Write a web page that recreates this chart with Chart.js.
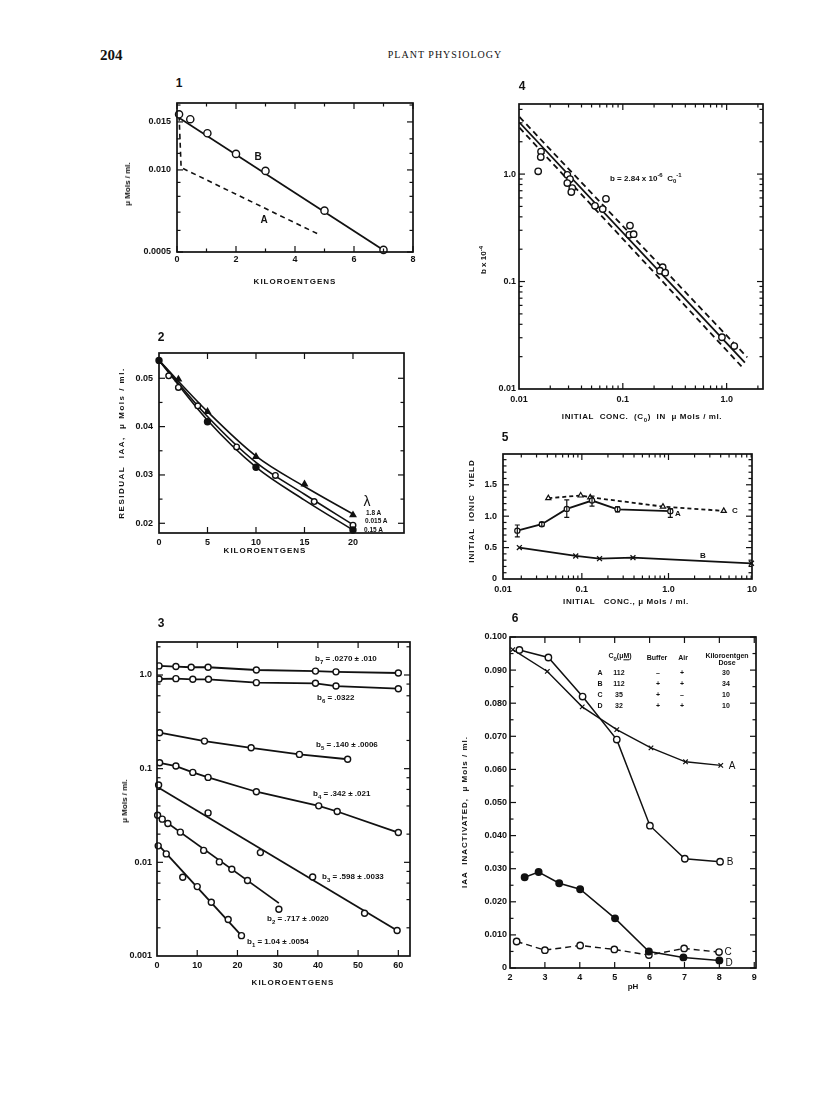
<!DOCTYPE html>
<html><head><meta charset="utf-8">
<script src="https://cdn.jsdelivr.net/npm/chart.js@4.4.1/dist/chart.umd.min.js"></script>
<style>
body{margin:0;background:#fff;width:816px;height:1107px;position:relative;overflow:hidden;font-family:'Liberation Sans',Arial,sans-serif;color:#111;}
.t{position:absolute;transform:translate(-50%,-50%);white-space:nowrap;line-height:1;font-weight:bold;font-size:8px;}
.t sub,.t sup{font-size:6px;}
</style></head><body>
<script>
// ================= DATA =================
// Fig 1
const f1_B_x=[0.07,0.45,1.03,2.0,3.0,5.0,7.0];
const f1_B_y=[0.0160,0.01535,0.01363,0.01145,0.00992,0.00709,0.00509];
const f1_Bfit_x=[0,7.16], f1_Bfit_y=[0.0157,0.00495];
const f1_A_x=[0.07,0.14,4.81], f1_A_y=[0.0158,0.0102,0.0058];
const f1_xTicks=[0,2,4,6,8], f1_xLabels=['0','2','4','6','8'];
const f1_yTicks=[0.005,0.010,0.015], f1_yLabels=['0.0005','0.010','0.015'];

// Fig 2
const f2_curve_x=[0,5,10,15,20];
const f2_c18_y=[0.0537,0.0431,0.0339,0.0276,0.0219];
const f2_c0015_y=[0.0537,0.0421,0.0326,0.0260,0.0197];
const f2_c015_y=[0.0537,0.0413,0.0316,0.0248,0.0186];
const f2_tri_x=[2,5,10,15,20], f2_tri_y=[0.0498,0.0431,0.0338,0.0281,0.0217];
const f2_open_x=[1,2,4,8,12,16,20], f2_open_y=[0.0505,0.0481,0.0443,0.0358,0.0299,0.0245,0.0196];
const f2_fill_x=[0,5,10,20], f2_fill_y=[0.0537,0.0410,0.0316,0.0186];
const f2_xTicks=[0,5,10,15,20], f2_xLabels=['0','5','10','15','20'];
const f2_yTicks=[0.02,0.03,0.04,0.05], f2_yLabels=['0.02','0.03','0.04','0.05'];

// Fig 3
const f3_b7_x=[0.5,4.7,8.5,12.7,24.7,39.4,44.5,60], f3_b7_y=[1.25,1.23,1.21,1.21,1.13,1.10,1.08,1.05];
const f3_b6_x=[0.5,4.7,8.9,12.8,24.7,39.4,44.5,60], f3_b6_y=[0.906,0.914,0.90,0.90,0.828,0.815,0.762,0.714];
const f3_b5_x=[0.65,11.8,23.4,35.4,47.4], f3_b5_y=[0.242,0.197,0.167,0.142,0.126];
const f3_b4_x=[0.65,4.7,8.9,12.7,24.7,40.2,44.8,60], f3_b4_y=[0.1156,0.1066,0.0912,0.0807,0.0567,0.0401,0.0349,0.0208];
const f3_b3_x=[0.4,12.7,25.7,38.7,51.6,59.7], f3_b3_y=[0.0668,0.0337,0.0127,0.00698,0.00286,0.00187];
const f3_b3fit_x=[0,59.7], f3_b3fit_y=[0.064,0.00187];
const f3_b2_x=[0.15,1.3,2.7,5.8,11.6,15.5,18.6,22.5,30.3], f3_b2_y=[0.0318,0.0289,0.0260,0.0210,0.0134,0.0101,0.00844,0.0064,0.00316];
const f3_b2fit_x=[0,30.3], f3_b2fit_y=[0.0317,0.00367];
const f3_b1_x=[0.3,2.3,6.4,10,13.5,17.7,21], f3_b1_y=[0.0150,0.0123,0.00693,0.00551,0.00375,0.00245,0.00165];
const f3_b1fit_x=[0,21], f3_b1fit_y=[0.0159,0.00165];
const f3_xTicks=[0,10,20,30,40,50,60], f3_xLabels=['0','10','20','30','40','50','60'];
const f3_yTicks=[0.001,0.01,0.1,1], f3_yLabels=['0.001','0.01','0.1','1.0'];

// Fig 4
const f4_x=[0.0153,0.0163,0.0162,0.0292,0.0310,0.0292,0.0326,0.0319,0.0688,0.0539,0.0640,0.1172,0.1154,0.1271,0.242,0.228,0.256,0.901,1.184];
const f4_y=[1.06,1.62,1.44,0.985,0.898,0.824,0.741,0.680,0.589,0.507,0.472,0.332,0.272,0.276,0.136,0.126,0.121,0.0303,0.0251];
const f4_fit_x=[0.0101,1.50], f4_fit_y=[3.02,0.0176];
const f4_up_x=[0.0101,1.58], f4_up_y=[3.40,0.0197];
const f4_lo_x=[0.0101,1.445], f4_lo_y=[2.70,0.0156];
const f4_xTicks=[0.01,0.1,1], f4_xLabels=['0.01','0.1','1.0'];
const f4_yTicks=[0.01,0.1,1], f4_yLabels=['0.01','0.1','1.0'];

// Fig 5
const f5_A_x=[0.018,0.0345,0.067,0.131,0.258,1.05], f5_A_y=[0.77,0.872,1.116,1.249,1.11,1.08];
const f5_A_lo=[0.67,0.84,0.98,1.16,1.07,0.98], f5_A_hi=[0.86,0.90,1.26,1.32,1.15,1.12];
const f5_C_x=[0.041,0.097,0.125,0.863,4.34], f5_C_y=[1.287,1.329,1.30,1.153,1.085];
const f5_B_x=[0.019,0.085,0.160,0.389,9.06], f5_B_y=[0.50,0.367,0.324,0.340,0.250];
const f5_xMin=0.0123, f5_xMax=9.2;
const f5_xTicks=[f5_xMin,0.1,1,f5_xMax], f5_xLabels=['0.01','0.1','1.0','10'];
const f5_yTicks=[0,0.5,1.0,1.5], f5_yLabels=['0','0.5','1.0','1.5'];

// Fig 6
const f6_A_x=[2.08,3.07,4.07,5.06,6.04,7.03,8.04], f6_A_y=[0.0962,0.0896,0.0789,0.0720,0.0665,0.0623,0.0612];
const f6_B_x=[2.27,3.10,4.08,5.06,6.01,7.01,8.02], f6_B_y=[0.0961,0.0938,0.0820,0.0690,0.0430,0.0330,0.0321];
const f6_C_x=[2.19,3.0,4.01,4.99,5.98,6.99,7.99], f6_C_y=[0.0080,0.0054,0.0068,0.0056,0.0039,0.0059,0.0048];
const f6_D_x=[2.42,2.82,3.41,4.01,5.01,5.98,6.97,8.0], f6_D_y=[0.0274,0.0290,0.0256,0.0238,0.0150,0.0050,0.0032,0.0023];
const f6_xTicks=[2,3,4,5,6,7,8,9], f6_xLabels=['2','3','4','5','6','7','8','9'];
const f6_yTicks=[0,0.01,0.02,0.03,0.04,0.05,0.06,0.07,0.08,0.09,0.1];
const f6_yLabels=['0','0.010','0.020','0.030','0.040','0.050','0.060','0.070','0.080','0.090','0.100'];
const f6_table=[['A','112','\u2013','+','30'],['B','112','+','+','34'],['C','35','+','\u2013','10'],['D','32','+','+','10']];

// ================= HELPERS =================
const INK='#111';
const pts=(xs,ys)=>xs.map((x,i)=>({x:x,y:ys[i]}));
function mk(xs,ys,o){return Object.assign({data:pts(xs,ys),showLine:false,pointStyle:'circle',pointRadius:3,pointBackgroundColor:'#fff',pointBorderColor:INK,pointBorderWidth:1.4,clip:false},o||{});}
function ln(xs,ys,o){return Object.assign({data:pts(xs,ys),showLine:true,pointRadius:0,borderColor:INK,borderWidth:1.8,fill:false},o||{});}
function logMinor(from,to){const r=[];for(let d=1e-4;d<100;d*=10){for(let k=2;k<=9;k++){const v=+(k*d).toPrecision(3);if(v>from&&v<to)r.push(v);}}return r;}
function steps(a,b,s){const r=[];for(let v=a;v<=b+1e-9;v+=s)r.push(+v.toFixed(6));return r;}

function framePlugin(f){
  return {id:'frame',afterDraw(chart){
    const {ctx,chartArea:a,scales:{x,y}}=chart;
    ctx.save();ctx.strokeStyle=INK;
    const seg=(x1,y1,x2,y2)=>{ctx.beginPath();ctx.moveTo(x1,y1);ctx.lineTo(x2,y2);ctx.stroke();};
    ctx.lineWidth=1.2;
    const doX=(arr,len)=>(arr||[]).forEach(v=>{const p=x.getPixelForValue(v);seg(p,a.bottom,p,a.bottom-len);seg(p,a.top,p,a.top+len);});
    const doY=(arr,len)=>(arr||[]).forEach(v=>{const p=y.getPixelForValue(v);seg(a.left,p,a.left+len,p);seg(a.right,p,a.right-len,p);});
    doX(f.xMaj,6);doX(f.xMin,3.5);doY(f.yMaj,6);doY(f.yMin,3.5);
    ctx.lineWidth=1.7;
    ctx.strokeRect(a.left,a.top,a.right-a.left,a.bottom-a.top);
    ctx.restore();
  }};
}
function errPlugin(xs,lo,hi){
  return {id:'err',afterDatasetsDraw(chart){
    const {ctx,scales:{x,y}}=chart;ctx.save();ctx.strokeStyle=INK;ctx.lineWidth=1.2;
    xs.forEach((v,i)=>{const px=x.getPixelForValue(v),p1=y.getPixelForValue(lo[i]),p2=y.getPixelForValue(hi[i]);
      ctx.beginPath();ctx.moveTo(px,p1);ctx.lineTo(px,p2);ctx.moveTo(px-2.5,p1);ctx.lineTo(px+2.5,p1);ctx.moveTo(px-2.5,p2);ctx.lineTo(px+2.5,p2);ctx.stroke();});
    ctx.restore();
  }};
}

function makeChart(g,o){
  const mL=60,mT=12,mR=24,mB=24;
  const cv=document.createElement('canvas');
  const w=g.R-g.L+mL+mR,h=g.B-g.T+mT+mB;
  cv.width=w;cv.height=h;
  cv.style.cssText='position:absolute;left:'+(g.L-mL)+'px;top:'+(g.T-mT)+'px;width:'+w+'px;height:'+h+'px';
  document.body.appendChild(cv);
  const tickFont={family:'Liberation Sans',weight:'bold',size:9};
  const axis=(t,min,max,vals,labels,pad,isX)=>({
    type:t,min:min,max:max,position:isX?'bottom':'left',
    afterBuildTicks:s=>{s.ticks=vals.map(v=>({value:v}));},
    afterFit:s=>{if(isX)s.height=mB;else s.width=mL;},
    ticks:{autoSkip:false,maxRotation:0,minRotation:0,padding:pad,color:INK,font:tickFont,callback:(v,i)=>labels[i]},
    grid:{display:false,drawTicks:false},border:{display:false}
  });
  return new Chart(cv,{
    type:'scatter',
    data:{datasets:o.datasets},
    options:{responsive:false,animation:false,events:[],
      layout:{padding:{top:mT,right:mR,left:0,bottom:0}},
      plugins:{legend:{display:false},tooltip:{enabled:false}},
      scales:{x:axis(o.xType,o.xMin,o.xMax,o.xVals,o.xLabels,o.xPad,true),
              y:axis(o.yType,o.yMin,o.yMax,o.yVals,o.yLabels,o.yPad,false)}},
    plugins:[framePlugin(o.frame)].concat(o.extra||[])
  });
}
function T(x,y,html,style){
  const d=document.createElement('div');d.className='t';d.innerHTML=html;
  d.style.left=x+'px';d.style.top=y+'px';
  if(style)d.style.cssText+=';'+style;
  document.body.appendChild(d);return d;
}
const ROT='transform:translate(-50%,-50%) rotate(-90deg);';
const LEFT='transform:translate(0,-50%);';
const TITLE='font-size:8px;letter-spacing:1px;';

// ================= HEADER =================
T(100,55,'204','transform:translate(0,-50%);font-family:"Liberation Serif",serif;font-size:15px;font-weight:bold;');
T(445,55,'PLANT PHYSIOLOGY','font-family:"Liberation Serif",serif;font-size:10px;font-weight:normal;letter-spacing:1px;');

// ================= FIG 1 =================
makeChart({L:177,T:103,R:413,B:252},{
  xType:'linear',xMin:0,xMax:8,xVals:f1_xTicks,xLabels:f1_xLabels,xPad:2,
  yType:'logarithmic',yMin:0.005,yMax:0.0176,yVals:f1_yTicks,yLabels:f1_yLabels,yPad:6,
  frame:{xMaj:f1_xTicks,xMin:[1,3,5,7],yMaj:f1_yTicks,yMin:[0.006,0.007,0.008,0.009,0.0115,0.013,0.0173]},
  datasets:[
    mk(f1_B_x,f1_B_y,{pointRadius:3.6}),
    ln(f1_Bfit_x,f1_Bfit_y),
    ln(f1_A_x,f1_A_y,{borderDash:[5,4],borderWidth:1.6})
  ]});
T(179,83,'1','font-size:12px;');
T(258,157,'B','font-size:10px;');
T(264,220,'A','font-size:10px;');
T(295,282,'KILOROENTGENS',TITLE);
T(128,184,'\u03bc Mols / ml.',ROT+'font-size:8px;');

// ================= FIG 2 =================
makeChart({L:159,T:353,R:404,B:533},{
  xType:'linear',xMin:0,xMax:25.26,xVals:f2_xTicks,xLabels:f2_xLabels,xPad:4,
  yType:'linear',yMin:0.01799,yMax:0.05523,yVals:f2_yTicks,yLabels:f2_yLabels,yPad:6,
  frame:{xMaj:[5,10,15,20],yMaj:f2_yTicks,yMin:[0.025,0.035,0.045]},
  datasets:[
    mk(f2_fill_x,f2_fill_y,{pointRadius:3,pointBackgroundColor:INK}),
    mk(f2_open_x,f2_open_y,{pointRadius:2.8}),
    mk(f2_tri_x,f2_tri_y,{pointStyle:'triangle',pointRadius:3.2,pointBackgroundColor:INK}),
    ln(f2_curve_x,f2_c18_y,{cubicInterpolationMode:'monotone',borderWidth:1.6}),
    ln(f2_curve_x,f2_c0015_y,{cubicInterpolationMode:'monotone',borderWidth:1.6}),
    ln(f2_curve_x,f2_c015_y,{cubicInterpolationMode:'monotone',borderWidth:1.6})
  ]});
T(161,337,'2','font-size:12px;');
T(367,501,'\u03bb','font-size:14px;font-weight:normal;');
T(366,513,'1.8 A',LEFT+'font-size:6.5px;');
T(365,521,'0.015 A',LEFT+'font-size:6.5px;');
T(364,529.5,'0.15 A',LEFT+'font-size:6.5px;');
T(265,551,'KILOROENTGENS',TITLE);
T(122,443,'RESIDUAL&nbsp; IAA, &nbsp;\u03bc Mols / ml.',ROT+'font-size:8px;letter-spacing:1.5px;');

// ================= FIG 3 =================
makeChart({L:157,T:642,R:410,B:956},{
  xType:'linear',xMin:0,xMax:62.9,xVals:f3_xTicks,xLabels:f3_xLabels,xPad:4,
  yType:'logarithmic',yMin:0.001,yMax:2.25,yVals:f3_yTicks,yLabels:f3_yLabels,yPad:5,
  frame:{xMaj:[10,20,30,40,50,60],yMaj:[0.01,0.1,1],yMin:[0.002,0.004,0.006,0.008,0.02,0.04,0.06,0.08,0.2,0.4,0.6,0.8,2]},
  datasets:[
    mk(f3_b3_x,f3_b3_y),mk(f3_b2_x,f3_b2_y),mk(f3_b1_x,f3_b1_y),
    ln(f3_b7_x,f3_b7_y,{pointRadius:3,pointBackgroundColor:'#fff',pointBorderColor:INK,pointBorderWidth:1.4}),
    ln(f3_b6_x,f3_b6_y,{pointRadius:3,pointBackgroundColor:'#fff',pointBorderColor:INK,pointBorderWidth:1.4}),
    ln(f3_b5_x,f3_b5_y,{pointRadius:3,pointBackgroundColor:'#fff',pointBorderColor:INK,pointBorderWidth:1.4}),
    ln(f3_b4_x,f3_b4_y,{pointRadius:3,pointBackgroundColor:'#fff',pointBorderColor:INK,pointBorderWidth:1.4}),
    ln(f3_b3fit_x,f3_b3fit_y),ln(f3_b2fit_x,f3_b2fit_y),ln(f3_b1fit_x,f3_b1fit_y)
  ]});
T(161,623,'3','font-size:12px;');
T(315,660,'b<sub>7</sub> = .0270 &plusmn; .010',LEFT);
T(317,699,'b<sub>6</sub> = .0322',LEFT);
T(316,746,'b<sub>5</sub> = .140 &plusmn; .0006',LEFT);
T(313,795,'b<sub>4</sub> = .342 &plusmn; .021',LEFT);
T(322,878,'b<sub>3</sub> = .598 &plusmn; .0033',LEFT);
T(267,920,'b<sub>2</sub> = .717 &plusmn; .0020',LEFT);
T(247,943,'b<sub>1</sub> = 1.04 &plusmn; .0054',LEFT);
T(293,983,'KILOROENTGENS',TITLE);
T(125,801,'\u03bc Mols / ml.',ROT+'font-size:8px;');

// ================= FIG 4 =================
makeChart({L:519,T:104,R:763,B:389},{
  xType:'logarithmic',xMin:0.01,xMax:2.24,xVals:f4_xTicks,xLabels:f4_xLabels,xPad:5,
  yType:'logarithmic',yMin:0.01,yMax:4.49,yVals:f4_yTicks,yLabels:f4_yLabels,yPad:3,
  frame:{xMaj:[0.1,1],xMin:logMinor(0.01,2.24),yMaj:[0.1,1],yMin:logMinor(0.01,4.49)},
  datasets:[
    mk(f4_x,f4_y,{pointRadius:3.2}),
    ln(f4_fit_x,f4_fit_y),
    ln(f4_up_x,f4_up_y,{borderDash:[6,4]}),
    ln(f4_lo_x,f4_lo_y,{borderDash:[6,4]})
  ]});
T(522,86,'4','font-size:12px;');
T(610,178,'b = 2.84 x 10<sup>-6</sup>&nbsp; C<sub>0</sub><sup>-1</sup>',LEFT);
T(483,260,'b x 10<sup>-4</sup>',ROT+'font-size:8px;');
T(642,418,'INITIAL&nbsp; CONC.&nbsp; (C<sub>0</sub>)&nbsp; IN&nbsp; \u03bc Mols / ml.','font-size:8px;letter-spacing:0.6px;');

// ================= FIG 5 =================
makeChart({L:503,T:454,R:752,B:579},{
  xType:'logarithmic',xMin:f5_xMin,xMax:f5_xMax,xVals:f5_xTicks,xLabels:f5_xLabels,xPad:5,
  yType:'linear',yMin:0,yMax:1.99,yVals:f5_yTicks,yLabels:f5_yLabels,yPad:6,
  frame:{xMaj:[0.1,1],xMin:logMinor(f5_xMin,f5_xMax),yMaj:[0.5,1,1.5],yMin:[0.1,0.2,0.3,0.4,0.6,0.7,0.8,0.9,1.1,1.2,1.3,1.4,1.6,1.7,1.8,1.9]},
  extra:[errPlugin(f5_A_x,f5_A_lo,f5_A_hi)],
  datasets:[
    ln(f5_A_x,f5_A_y,{pointRadius:2.6,pointBackgroundColor:'#fff',pointBorderColor:INK,pointBorderWidth:1.2}),
    ln(f5_C_x,f5_C_y,{borderDash:[4,3],pointStyle:'triangle',pointRadius:3,pointBackgroundColor:'#fff',pointBorderColor:INK,pointBorderWidth:1.2}),
    ln(f5_B_x,f5_B_y,{pointStyle:'crossRot',pointRadius:3.5,pointBorderColor:INK,pointBorderWidth:1.3,clip:false})
  ]});
T(505,437,'5','font-size:12px;');
T(678,514,'A','font-size:8px;');
T(735,511,'C','font-size:8px;');
T(703,556,'B','font-size:8px;');
T(472,511,'INITIAL&nbsp; IONIC&nbsp; YIELD',ROT+'font-size:8px;letter-spacing:1px;');
T(626,602,'INITIAL&nbsp;&nbsp; CONC., \u03bc Mols / ml.','font-size:8px;letter-spacing:0.6px;');

// ================= FIG 6 =================
makeChart({L:510,T:637,R:756,B:968},{
  xType:'linear',xMin:2,xMax:9.05,xVals:f6_xTicks,xLabels:f6_xLabels,xPad:4,
  yType:'linear',yMin:0,yMax:0.1,yVals:f6_yTicks,yLabels:f6_yLabels,yPad:3,
  frame:{xMaj:[3,4,5,6,7,8,9],yMaj:f6_yTicks,yMin:steps(0.005,0.095,0.01)},
  datasets:[
    ln(f6_B_x,f6_B_y,{borderWidth:1.5,pointRadius:3.2,pointBackgroundColor:'#fff',pointBorderColor:INK,pointBorderWidth:1.4}),
    ln(f6_A_x,f6_A_y,{borderWidth:1.4,pointStyle:'crossRot',pointRadius:3.2,pointBorderColor:INK,pointBorderWidth:1.2}),
    ln(f6_D_x,f6_D_y,{borderWidth:1.5,pointRadius:3.2,pointBackgroundColor:INK,pointBorderColor:INK}),
    ln(f6_C_x,f6_C_y,{borderWidth:1.4,borderDash:[6,4],pointRadius:3.2,pointBackgroundColor:'#fff',pointBorderColor:INK,pointBorderWidth:1.4})
  ]});
T(515,618,'6','font-size:12px;');
T(732,766,'A','font-size:10px;font-weight:normal;');
T(730,862,'B','font-size:10px;font-weight:normal;');
T(728,952,'C','font-size:10px;font-weight:normal;');
T(729,963,'D','font-size:10px;font-weight:normal;');
T(620,657,'C<sub>0</sub>(\u03bc<u>M</u>)','font-size:7px;');
T(657,657,'Buffer','font-size:7px;');
T(683,657,'Air','font-size:7px;');
T(727,655,'Kiloroentgen','font-size:7px;');
T(727,662,'Dose','font-size:7px;');
const rowY=[672,683,694,705], colX=[600,619,658,682,726];
f6_table.forEach((r,i)=>r.forEach((c,j)=>T(colX[j],rowY[i],c,'font-size:7px;')));
T(465,812,'IAA&nbsp; INACTIVATED, &nbsp;\u03bc Mols / ml.',ROT+'font-size:8px;letter-spacing:1px;');
T(633,987,'pH','font-size:8px;');
</script>
</body></html>
